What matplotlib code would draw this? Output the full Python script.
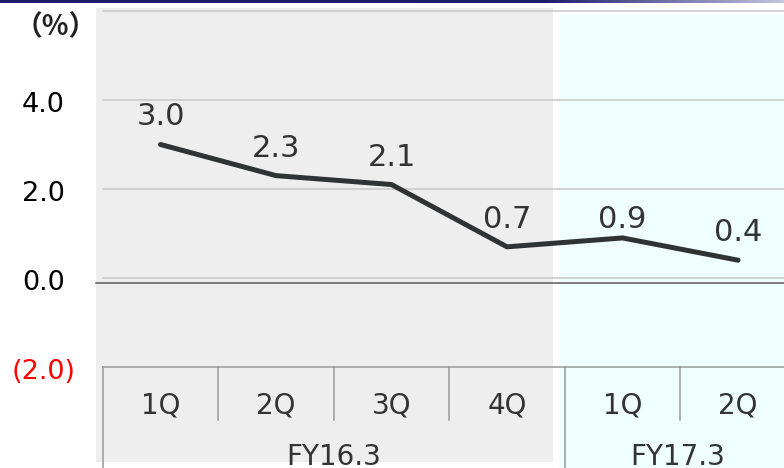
import numpy as np
import matplotlib.pyplot as plt
from matplotlib.colors import LinearSegmentedColormap
from matplotlib.patches import Rectangle

# quarterly growth rate (%)
quarters = ["1Q", "2Q", "3Q", "4Q", "1Q", "2Q"]
growth = [3.0, 2.3, 2.1, 0.7, 0.9, 0.4]
value_text = ["3.0", "2.3", "2.1", "0.7", "0.9", "0.4"]
years = ["FY16.3", "FY17.3"]
year_centre = [1.5, 4.48]
y_ticks = [4.0, 2.0, 0.0, -2.0]
y_tick_text = ["4.0", "2.0", "0.0", "(2.0)"]
grid_vals = [6.0, 4.0, 2.0, 0.0]

# label lift above the point, pixels (baseline)
lift = [19, 19, 19, 19, 10, 19]

fig = plt.figure(figsize=(7.84, 4.68), dpi=100)
ax = fig.add_axes([0, 0, 1, 1])
ax.axis("off")

# background panels
ax.add_patch(Rectangle((-0.558, -4.135), 3.956, 10.2, color="#eeeeee", lw=0, zorder=0))
ax.add_patch(Rectangle((3.450, -4.5), 2.2, 10.41, color="#efffff", lw=0, zorder=0))

# banner line along the top
navy = LinearSegmentedColormap.from_list("navy", [(0, "#1c1c6a"), (0.7, "#1e1e6e"), (1, "#c4c4e0")])
ax.imshow(np.linspace(0, 1, 256)[None, :], cmap=navy, aspect="auto",
          extent=(-1.3896, 5.398, 6.19, 6.247), zorder=5)
ax.set_xlim(-1.3896, 5.398)
ax.set_ylim(-4.270, 6.247)

for g in grid_vals:
    ax.plot([-0.5, 5.5], [g, g], color="#c8c8c8", lw=1.1, zorder=1)
ax.plot([-0.558, 5.5], [-0.11, -0.11], color="#5a5a5a", lw=1.1, zorder=2)

# category table
tbl = "#999999"
ax.plot([-0.5, 5.5], [-2.0, -2.0], color=tbl, lw=1.1, zorder=2)
for xv in [-0.5, 3.5]:
    ax.plot([xv, xv], [-2.0, -4.5], color=tbl, lw=1.1, zorder=2)
for xv in [0.5, 1.5, 2.5, 4.5]:
    ax.plot([xv, xv], [-2.0, -3.19], color=tbl, lw=1.1, zorder=2)

for i, q in enumerate(quarters):
    ax.annotate(q, (i, -2.0), xytext=(0, -47), textcoords="offset pixels",
                ha="center", va="baseline", fontsize=20, color="#333333",
                family="DejaVu Sans")
for xc, yr in zip(year_centre, years):
    ax.annotate(yr, (xc, -2.0), xytext=(0, -98), textcoords="offset pixels",
                ha="center", va="baseline", fontsize=20, color="#333333",
                family="DejaVu Sans")

# y axis labels
for v, t in zip(y_ticks, y_tick_text):
    ax.annotate(t, (-1.013, v), xytext=(0, -12), textcoords="offset pixels",
                ha="center", va="baseline", fontsize=19.5,
                color="red" if v < 0 else "black", family="DejaVu Sans")
ax.text(-0.905, 5.63, "（%）", ha="center", va="center", fontsize=20,
        fontweight="bold", family=["Noto Sans CJK JP", "DejaVu Sans"], color="#222222")

# the series
x = np.arange(len(growth))
ax.plot(x, growth, color="#2f3333", lw=3.6, solid_capstyle="round",
        solid_joinstyle="round", zorder=4)
for i, (v, t) in enumerate(zip(growth, value_text)):
    ax.annotate(t, (x[i], v), xytext=(0, lift[i]), textcoords="offset pixels",
                ha="center", va="baseline", fontsize=22, color="#333333",
                family="DejaVu Sans", zorder=6)

fig.savefig("out.png", dpi=100)
